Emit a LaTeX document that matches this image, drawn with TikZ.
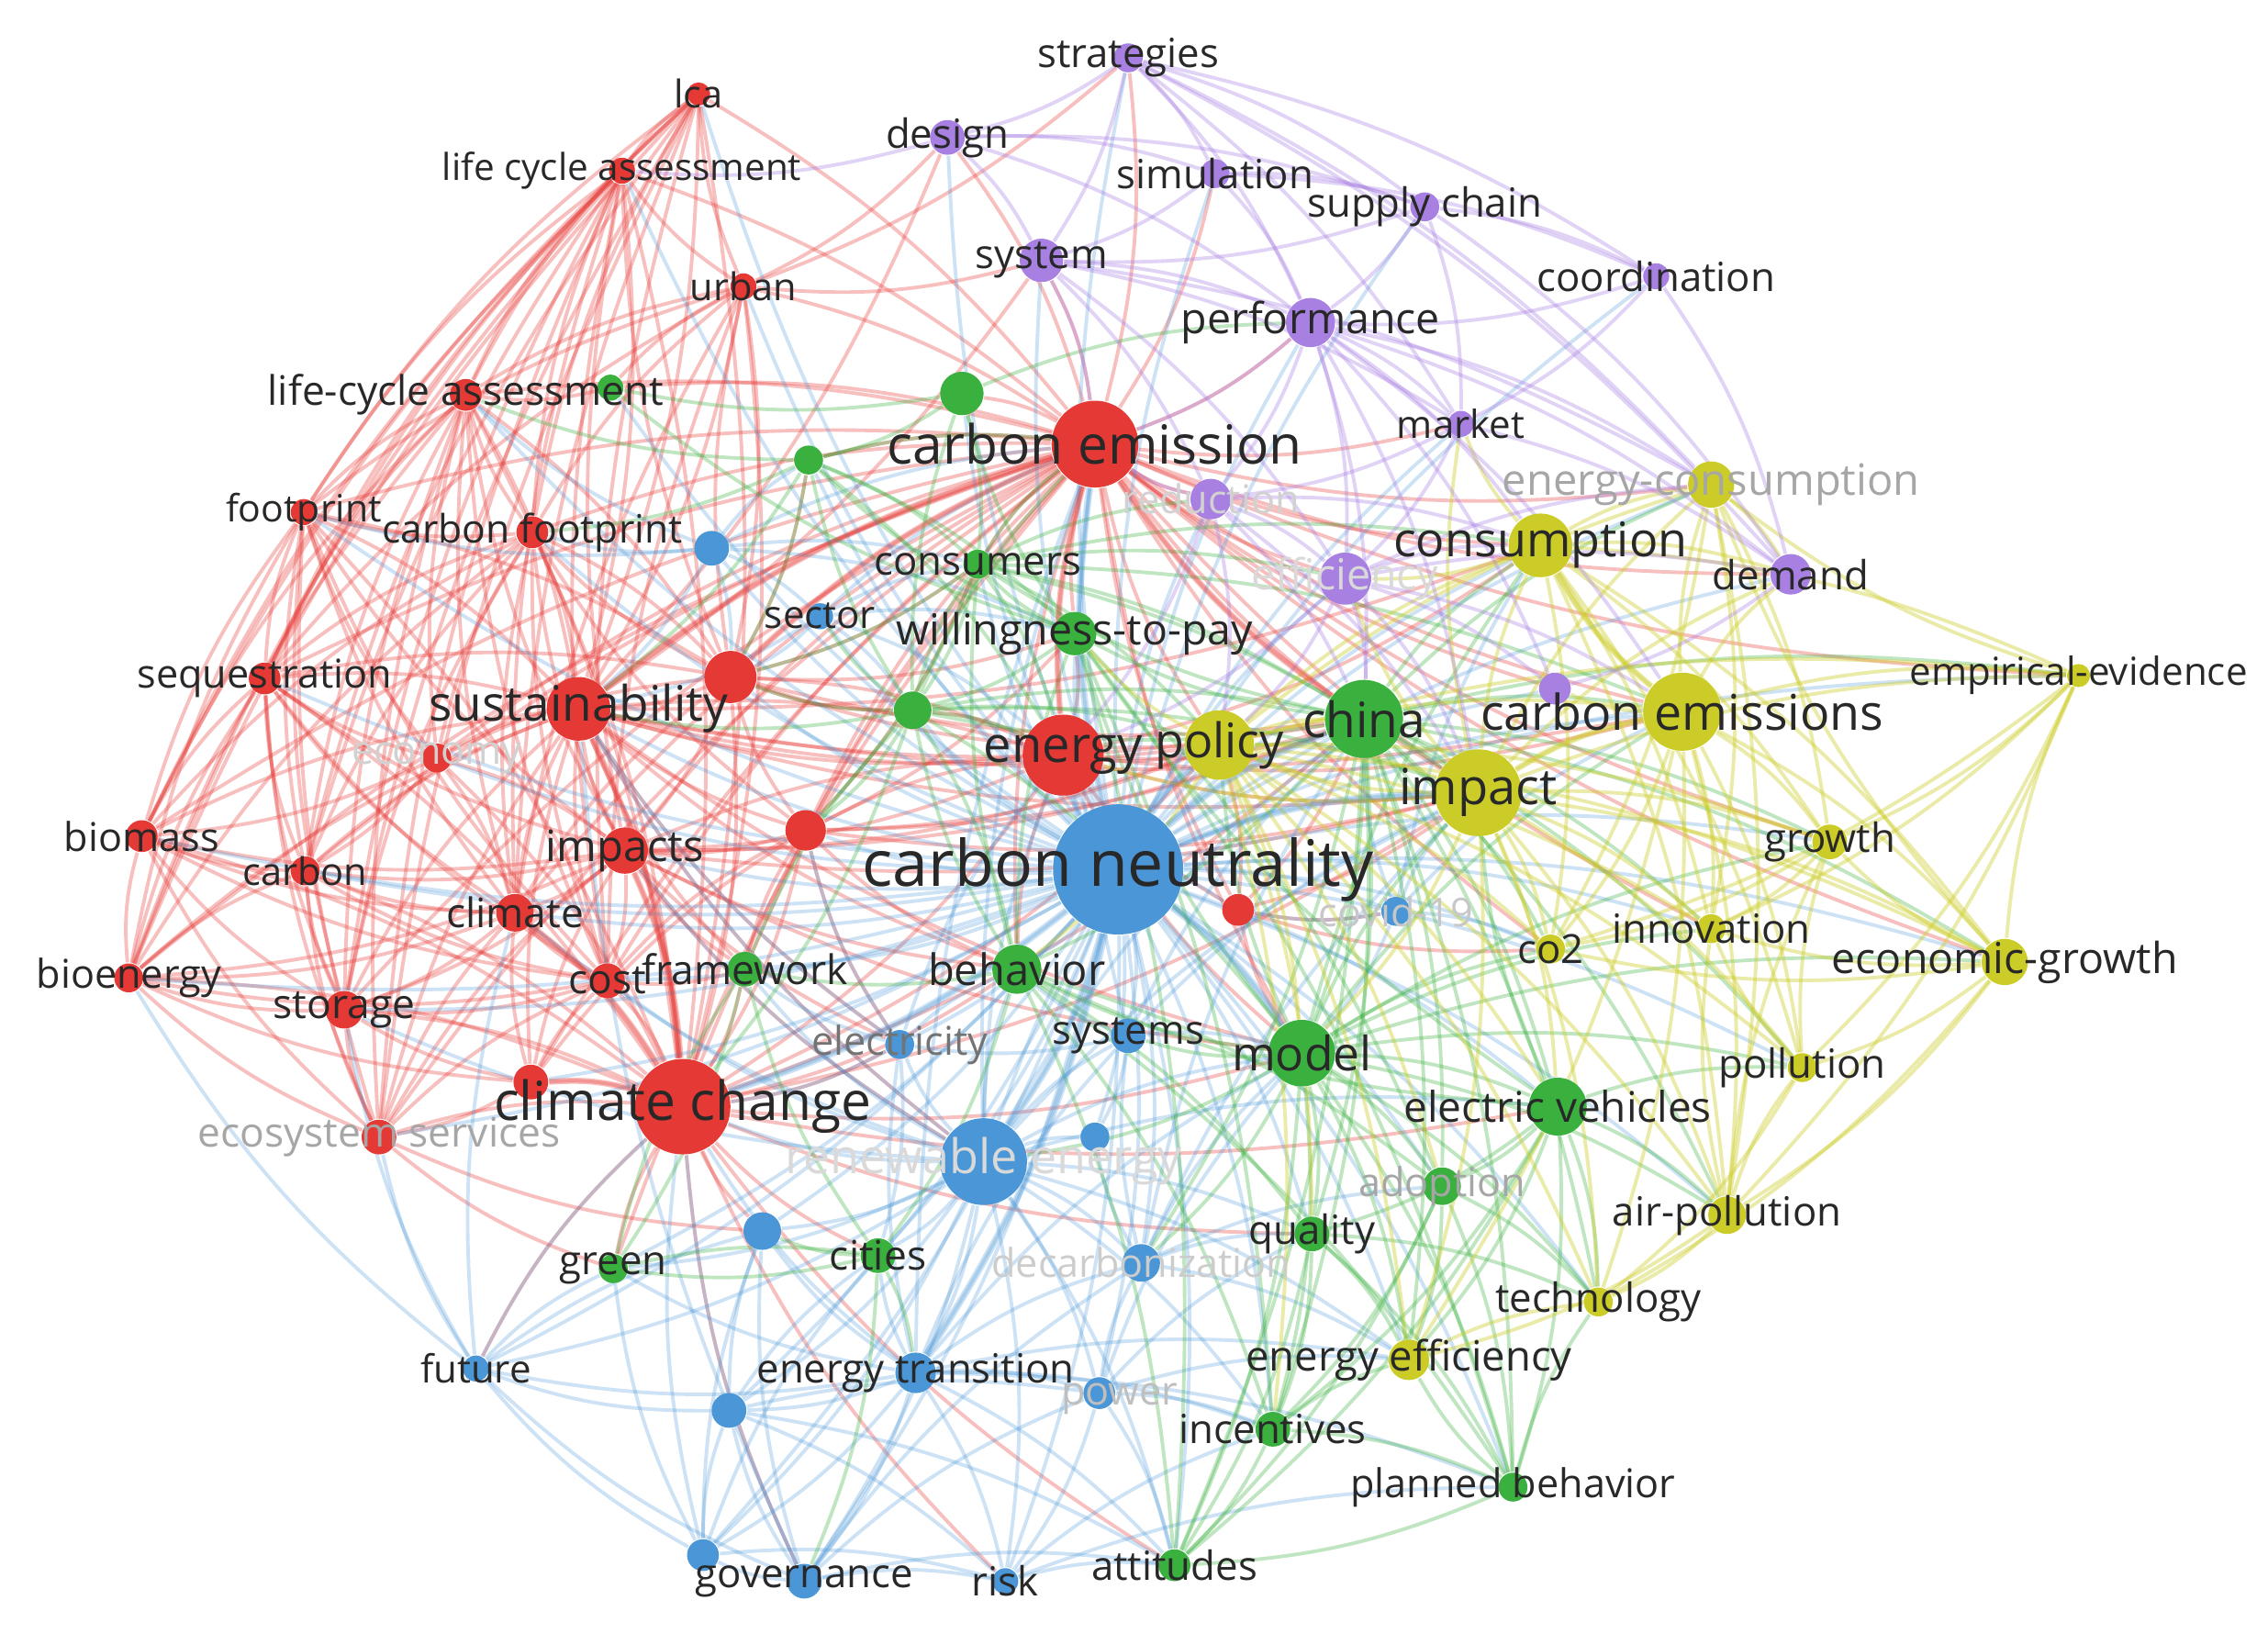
\documentclass[tikz,border=0pt]{standalone}
\usepackage{fontspec}
\setmainfont{Open Sans}

\definecolor{vred}{RGB}{229,57,53}
\definecolor{vblue}{RGB}{74,150,214}
\definecolor{vgreen}{RGB}{58,176,62}
\definecolor{vyellow}{RGB}{204,204,40}
\definecolor{vpurple}{RGB}{168,128,226}
\definecolor{vtext}{RGB}{40,40,40}

\pgfdeclarelayer{links}
\pgfsetlayers{links,main}

\tikzset{
  kw/.style={circle, inner sep=0pt, minimum size=#1},
  rn/.style={kw=#1, fill=vred},
  bn/.style={kw=#1, fill=vblue},
  gn/.style={kw=#1, fill=vgreen},
  yn/.style={kw=#1, fill=vyellow},
  pn/.style={kw=#1, fill=vpurple},
  lbl/.style={font=\fontsize{#1}{#1}\selectfont, text=vtext, inner sep=0pt},
  rlink/.style={draw=vred, draw opacity=.32, line width=.7pt, bend right=10},
  blink/.style={draw=vblue, draw opacity=.28, line width=.7pt, bend left=10},
  glink/.style={draw=vgreen, draw opacity=.32, line width=.7pt, bend left=10},
  ylink/.style={draw=vyellow, draw opacity=.4, line width=.7pt, bend left=10},
  plink/.style={draw=vpurple, draw opacity=.35, line width=.7pt, bend left=10}
}

\begin{document}
\begin{tikzpicture}[x=0.1mm, y=-0.1mm]
  \useasboundingbox (0,0) rectangle (1568,1137);

  % red cluster
  \node[rn=1.6mm] (lca)   at (483,65)  {};
  \node[rn=1.8mm] (lcas)  at (430,118) {};
  \node[rn=1.8mm] (urban) at (514,198) {};
  \node[rn=2.2mm] (lcah)  at (322,273) {};
  \node[rn=1.8mm] (fp)    at (210,354) {};
  \node[rn=2.2mm] (cfp)   at (368,368) {};
  \node[rn=2.2mm] (seq)   at (183,469) {};
  \node[rn=4.4mm] (sus)   at (400,490) {};
  \node[rn=3.6mm] (ra)    at (505,468) {};
  \node[rn=2mm]   (eco)   at (302,524) {};
  \node[rn=2.2mm] (bio)   at (98,578)  {};
  \node[rn=2mm]   (carb)  at (211,602) {};
  \node[rn=3.2mm] (imps)  at (432,588) {};
  \node[rn=2.8mm] (rb)    at (557,574) {};
  \node[rn=2.6mm] (clim)  at (356,631) {};
  \node[rn=5.6mm] (en)    at (735,522) {};
  \node[rn=2.4mm] (cost)  at (420,678) {};
  \node[rn=2mm]   (bioe)  at (89,676)  {};
  \node[rn=2.6mm] (stor)  at (238,698) {};
  \node[rn=2.4mm] (rc)    at (367,748) {};
  \node[rn=2.4mm] (ess)   at (262,786) {};
  \node[rn=2.2mm] (rd)    at (856,629) {};

  % blue cluster
  \node[bn=2.4mm] (ba)     at (492,379) {};
  \node[bn=1.8mm] (sector) at (567,426) {};
  \node[bn=2mm]   (covid)  at (965,630) {};
  \node[bn=2mm]   (elec)   at (622,722) {};
  \node[bn=2.4mm] (sys)    at (780,716) {};
  \node[bn=6mm]   (re)     at (680,803) {};
  \node[bn=2mm]   (bb)     at (757,786) {};
  \node[bn=2.6mm] (bc)     at (527,851) {};
  \node[bn=2.6mm] (decarb) at (789,873) {};
  \node[bn=1.8mm] (fut)    at (329,946) {};
  \node[bn=2.8mm] (et)     at (633,949) {};
  \node[bn=2.2mm] (power)  at (760,963) {};
  \node[bn=2.4mm] (bd)     at (504,975) {};
  \node[bn=2.2mm] (be)     at (486,1075) {};
  \node[bn=2.4mm] (gov)    at (556,1093) {};
  \node[bn=1.8mm] (risk)   at (695,1093) {};

  % green cluster
  \node[gn=1.8mm] (ga)     at (422,268) {};
  \node[gn=3mm]   (gb)     at (665,272) {};
  \node[gn=2mm]   (gc)     at (559,318) {};
  \node[gn=2mm]   (cons)   at (676,390) {};
  \node[gn=3mm]   (wtp)    at (743,438) {};
  \node[gn=2.6mm] (gd)     at (631,491) {};
  \node[gn=5.4mm] (china)  at (943,497) {};
  \node[gn=2.4mm] (frame)  at (515,670) {};
  \node[gn=3.4mm] (behav)  at (703,670) {};
  \node[gn=4.6mm] (model)  at (900,728) {};
  \node[gn=4mm]   (ev)     at (1077,765) {};
  \node[gn=2.6mm] (adopt)  at (997,820) {};
  \node[gn=2.4mm] (cities) at (607,868) {};
  \node[gn=2.4mm] (qual)   at (907,853) {};
  \node[gn=2mm]   (grn)    at (424,877) {};
  \node[gn=2.4mm] (inc)    at (880,988) {};
  \node[gn=2mm]   (pb)     at (1046,1028) {};
  \node[gn=2.2mm] (att)    at (812,1082) {};

  % yellow cluster
  \node[yn=4.8mm] (policy) at (843,515) {};
  \node[yn=3.2mm] (ecs)    at (1183,335) {};
  \node[yn=4.4mm] (consum) at (1065,377) {};
  \node[yn=5.4mm] (cems)   at (1163,492) {};
  \node[yn=1.6mm] (emp)    at (1437,467) {};
  \node[yn=6mm]   (impact) at (1022,548) {};
  \node[yn=2.4mm] (growth) at (1265,582) {};
  \node[yn=2mm]   (innov)  at (1183,642) {};
  \node[yn=2mm]   (co2)    at (1072,656) {};
  \node[yn=3.2mm] (egr)    at (1386,665) {};
  \node[yn=2mm]   (poll)   at (1246,738) {};
  \node[yn=2.6mm] (airp)   at (1194,840) {};
  \node[yn=2mm]   (tech)   at (1105,900) {};
  \node[yn=2.8mm] (ee)     at (974,940) {};

  % purple cluster
  \node[pn=2mm]   (strat)  at (780,40)  {};
  \node[pn=2.4mm] (design) at (655,95)  {};
  \node[pn=2mm]   (sim)    at (840,120) {};
  \node[pn=2mm]   (sc)     at (985,143) {};
  \node[pn=3mm]   (system) at (720,180) {};
  \node[pn=1.8mm] (coord)  at (1145,191) {};
  \node[pn=3.4mm] (perf)   at (906,223) {};
  \node[pn=1.8mm] (market) at (1010,293) {};
  \node[pn=2.8mm] (redu)   at (837,345) {};
  \node[pn=3.6mm] (eff)    at (930,400) {};
  \node[pn=2.8mm] (demand) at (1238,397) {};
  \node[pn=2.2mm] (pa)     at (1075,476) {};

  % the big ones last
  \node[rn=6mm]   (ce)     at (757,307) {};
  \node[rn=6.6mm] (cc)     at (472,765) {};
  \node[bn=9mm]   (cn)     at (773,601) {};

  \begin{pgfonlayer}{links}
    % red links
    \foreach \a/\bl in {
      ce/{lca,lcas,urban,lcah,fp,cfp,seq,sus,ra,eco,bio,carb,imps,rb,clim,en,cost,bioe,stor,cc,rc,ess,rd,gb,gc,ga,cons,wtp,china,policy,consum,ecs,cems,impact,market,perf,system,design,strat,sim,redu,eff,demand,pa,model,behav,frame,grn,co2,innov,growth,egr,emp},
      cc/{sus,imps,clim,cost,stor,bioe,bio,carb,seq,fp,cfp,lcah,lcas,lca,urban,eco,ess,rc,ra,rb,en,frame,grn,fut,bc,cities,policy,china,impact,behav,elec,model,ev,qual,att,risk,gov},
      sus/{lca,lcas,urban,lcah,fp,cfp,seq,eco,bio,carb,imps,clim,cost,bioe,stor,ess,ra,rb,rc,en,design,system,china,impact,policy,cems,consum,model,frame,behav,elec,re},
      lca/{lcas,urban,lcah,fp,cfp,seq,bioe,bio,ess,stor,carb,clim,cost},
      lcas/{urban,lcah,fp,cfp,seq,bio,bioe,carb,clim,stor,cost,imps,ess,ra},
      urban/{lcah,cfp,fp,seq,ra,clim,cost,design,system,strat,ga},
      lcah/{fp,cfp,seq,bio,bioe,carb,clim,stor,cost,imps,ess,eco,ga},
      fp/{cfp,seq,bio,bioe,carb,clim,stor,eco,cost,imps,ess},
      cfp/{seq,bio,bioe,carb,clim,stor,eco,cost,imps,ra,rb},
      seq/{bio,bioe,carb,clim,stor,eco,cost,imps,ess},
      bio/{bioe,carb,clim,stor,eco,cost,imps,ess},
      carb/{bioe,clim,stor,eco,cost,imps,ess},
      bioe/{stor,clim,cost,ess,imps,rc},
      stor/{clim,cost,ess,imps,rc},
      clim/{cost,imps,ess,eco,rc},
      cost/{imps,ess,rc,frame},
      imps/{eco,ess,rc,rb,ra,en,china,impact,policy,frame,behav,model,re,elec},
      en/{ra,rb,rd,policy,china,impact,cems,consum,wtp,behav,model,gd,sus,imps},
      ra/{rb,eco,gc,gd,wtp,cons,policy,china,cfp,lcah,urban,fp,seq,clim},
      rb/{rc,frame,behav,policy,china,impact,cost,elec,cons,wtp},
      rd/{impact,china,covid,model,co2,policy},
      ess/{rc,grn,bc}}
      \foreach \b in \bl \draw[rlink] (\a) to (\b);
    % blue links
    \foreach \a/\bl in {
      cn/{ce,cc,sus,imps,en,policy,china,impact,cems,consum,model,ev,behav,wtp,cons,re,et,decarb,sys,elec,covid,rd,rb,ra,frame,cities,qual,adopt,ee,inc,pb,att,risk,gov,be,bd,power,fut,grn,bc,bb,sector,ba,cfp,lcah,fp,seq,eco,bio,carb,clim,cost,stor,bioe,ess,rc,lcas,lca,urban,ga,gb,gc,gd,strat,design,sim,sc,system,coord,perf,market,redu,eff,demand,pa,ecs,emp,growth,innov,co2,egr,poll,airp,tech},
      re/{cc,ce,et,decarb,power,gov,be,bd,bc,cities,elec,sys,bb,risk,fut,grn,en,sus,china,model,impact,policy,ee,ev,qual,inc,att,imps,clim,cost,stor,frame,behav},
      et/{gov,be,bd,power,risk,decarb,cities,fut,bc,sys,elec,cc,ce,inc,att,grn,ee,model,pb},
      gov/{be,bd,risk,fut,power,decarb,bc,cc,sus,att},
      be/{bd,fut,risk,bc,cc,grn,cities},
      bd/{fut,bc,cities,power,risk,att},
      fut/{cc,grn,bc,ess,clim,bioe,stor},
      power/{decarb,risk,att,inc,ee,qual,model},
      decarb/{sys,bb,qual,model,adopt,ee,china,impact},
      sys/{elec,bb,model,behav,china,ce,impact},
      elec/{cc,en,sus,rb,frame,behav,cities},
      ba/{cfp,lcah,sector,sus,ce,ra,gc,cons,wtp,fp},
      sector/{ce,ra,sus,wtp,cons,en,gd},
      covid/{impact,china,cems,co2,rd,model,consum},
      risk/{att,inc,pb}}
      \foreach \b in \bl \draw[blink] (\a) to (\b);
    % green links
    \foreach \a/\bl in {
      china/{model,ev,adopt,qual,inc,pb,att,wtp,cons,behav,gd,impact,cems,consum,policy,ee,co2,innov,growth,egr,tech,airp,poll,decarb,ecs,emp},
      model/{ev,adopt,qual,inc,pb,att,behav,wtp,impact,cems,tech,ee,airp,innov,co2,consum,policy,egr,growth,poll,decarb,sys,re},
      ev/{adopt,qual,inc,pb,att,tech,airp,poll,ee,behav,wtp,impact},
      behav/{wtp,cons,gd,frame,qual,inc,pb,att,cities,adopt},
      wtp/{cons,gb,gc,gd,ga,inc,pb,att,adopt},
      gd/{ce,cc,sus,en,policy,china,impact,behav,model,cons,gc,gb,ra,rb,sector},
      gc/{ce,sus,lcah,cfp,ra,cons,wtp,en},
      cons/{ce,en,policy,china,impact,gd,rb,ra,consum,cems,eff,redu},
      adopt/{inc,pb,att,ee,tech},
      qual/{inc,pb,att,ee,tech},
      inc/{pb,att,ee},
      pb/{att,ee,tech},
      cities/{grn,frame,bc,gov,et},
      frame/{gd,grn},
      gb/{gc,cons,ga,perf},
      grn/{frame,cities}}
      \foreach \b in \bl \draw[glink] (\a) to (\b);
    % yellow links
    \foreach \a/\bl in {
      impact/{cems,consum,ecs,emp,growth,innov,co2,egr,poll,airp,tech,ee,policy,demand,eff,market,model,ev,en},
      cems/{consum,ecs,emp,growth,innov,co2,egr,poll,airp,tech,ee,demand,pa},
      consum/{ecs,emp,growth,innov,co2,egr,poll,airp,demand,eff,market},
      egr/{emp,growth,innov,co2,poll,airp,tech,ecs},
      emp/{growth,innov,ecs,airp,poll,co2},
      ecs/{growth,innov,demand,co2,airp},
      policy/{china,impact,innov,co2,ee,tech,consum,cems,model,ev,behav,wtp,qual,adopt,inc,growth,egr,poll,airp,ecs,emp},
      airp/{poll,tech,ee,innov,growth},
      poll/{tech,innov,growth},
      ee/{tech},
      growth/{innov,co2}}
      \foreach \b in \bl \draw[ylink] (\a) to (\b);
    % purple links
    \foreach \a/\bl in {
      strat/{design,sim,sc,system,coord,perf,market,demand,ecs},
      design/{sim,system,perf,sc,lcas},
      sim/{sc,system,perf,coord},
      sc/{coord,perf,market,demand,system},
      system/{perf,market,redu,eff,ce,ecs},
      coord/{perf,market,demand},
      perf/{market,redu,eff,demand,consum,pa,ce,impact,china,cems,ecs},
      market/{demand,eff,redu},
      redu/{eff,ce,china,impact,consum,policy,en},
      eff/{demand,pa,impact,china,consum,cems,ecs,en,policy},
      demand/{pa}}
      \foreach \b in \bl \draw[plink] (\a) to (\b);
    % strong links
    \foreach \b in {ce,cc,re,china,impact,en,policy,model,et}
      \draw[blink, line width=1.4pt] (cn) to (\b);
    \foreach \b in {en,sus,ra,china}
      \draw[rlink, line width=1.2pt] (ce) to (\b);
    \foreach \b in {sus,imps,rc,clim}
      \draw[rlink, line width=1.2pt] (cc) to (\b);
    \draw[ylink, line width=1.2pt] (impact) to (cems);
    \draw[ylink, line width=1.2pt] (cems) to (consum);
  \end{pgfonlayer}

  % labels
  \foreach \n/\txt/\sz in {
    lca/lca/7.5, lcas/life cycle assessment/7.3, urban/urban/7.5,
    lcah/life-cycle assessment/8, fp/footprint/7.4, cfp/carbon footprint/7.7,
    seq/sequestration/7.8, sus/sustainability/9.6, bio/biomass/7.8,
    carb/carbon/7.5, imps/impacts/8.5, clim/climate/8, en/energy/9.8,
    cost/cost/8, bioe/bioenergy/7.8, stor/storage/8,
    cc/climate change/10.6, ce/carbon emission/10.6,
    cn/carbon neutrality/12.6, sector/sector/7.6, sys/systems/7.9,
    fut/future/7.6, et/energy transition/7.9, gov/governance/7.9,
    risk/risk/7.9, cons/consumers/7.9, wtp/willingness-to-pay/8.4,
    china/china/9.6, frame/framework/8, behav/behavior/8.5,
    model/model/9.3, ev/electric vehicles/8.3, cities/cities/8,
    qual/quality/7.9, grn/green/7.9, inc/incentives/7.9,
    pb/planned behavior/7.8, att/attitudes/7.9, policy/policy/9.4,
    consum/consumption/9.4, cems/carbon emissions/9.7,
    emp/empirical-evidence/7.6, impact/impact/9.8, growth/growth/7.9,
    innov/innovation/7.9, co2/co2/7.9, egr/economic-growth/8.4,
    poll/pollution/7.9, airp/air-pollution/7.9, tech/technology/7.9,
    ee/energy efficiency/8.2, strat/strategies/7.9, design/design/7.9,
    sim/simulation/7.9, sc/supply chain/7.9, system/system/7.9,
    coord/coordination/7.9, perf/performance/8.4, market/market/7.6,
    demand/demand/7.9}
    \node[lbl=\sz] (t-\n) at (\n) {\txt};
  % faded labels
  \foreach \n/\txt/\sz/\sh in {
    eco/economy/7.8/18, redu/reduction/7.8/18, eff/efficiency/8.4/15,
    covid/covid-19/7.8/22, re/renewable energy/9.4/15,
    decarb/decarbonization/7.8/20,
    ess/ecosystem services/8/35, adopt/adoption/7.8/35,
    ecs/energy-consumption/8.5/35, elec/electricity/7.8/55}
    \node[lbl=\sz, text=black!\sh] (t-\n) at (\n) {\txt};
  \node[lbl=7.8, text=black!25, xshift=1.4mm, yshift=-0.4mm] (t-power) at (power) {power};
\end{tikzpicture}
\end{document}
